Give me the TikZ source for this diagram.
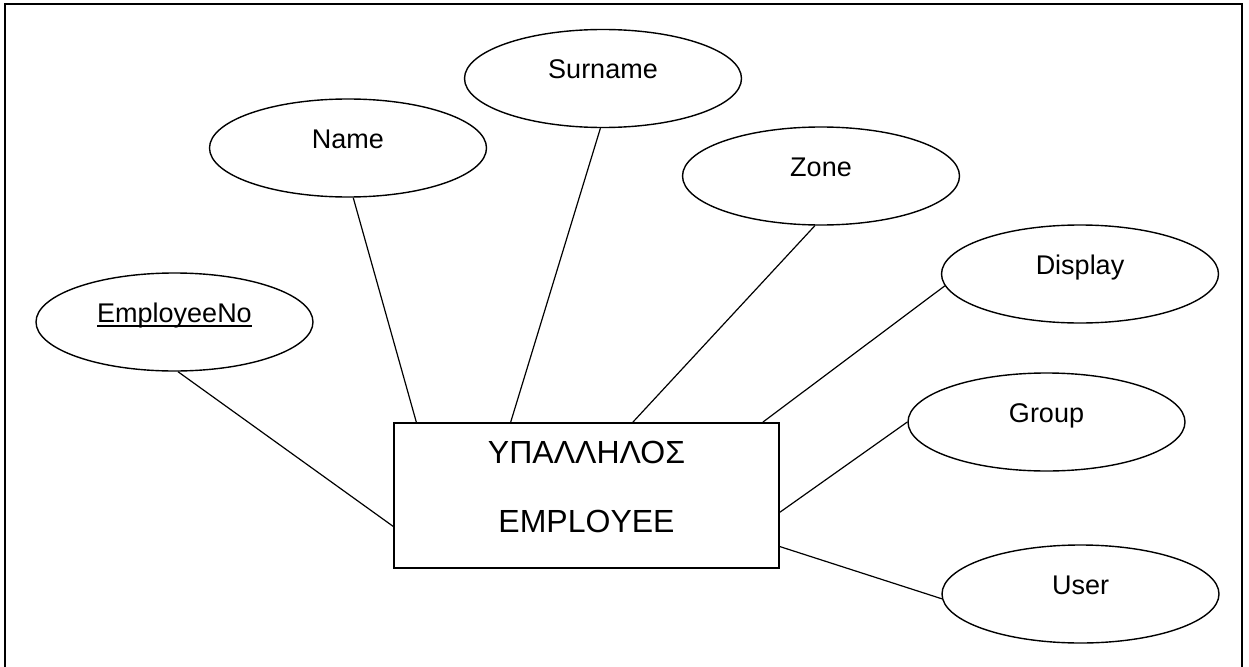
\documentclass[tikz,border=0pt]{standalone}
\usepackage{fontspec}
\setmainfont{Liberation Sans}
\usetikzlibrary{shapes.geometric,calc}
% underlined key attribute, rule crossing the descenders
\newcommand\keyattr[1]{\setbox0\hbox{#1}\rlap{\rule[-4.5pt]{\wd0}{1.5pt}}\box0}
\begin{document}
\begin{tikzpicture}[x=1pt,y=-1pt,
  attr/.style={ellipse,draw,line width=1.4pt,minimum width=277pt,minimum height=98pt,
    inner sep=0pt,text height=0pt,text depth=0pt,font=\fontsize{27}{31}\selectfont},
  entity/.style={rectangle,draw,line width=1.8pt,minimum width=385pt,minimum height=145pt,inner sep=0pt},
  etext/.style={anchor=base,inner sep=0pt,font=\fontsize{32}{38}\selectfont},
  link/.style={line width=1.2pt}]
\clip (0,0) rectangle (1249,666);
% page frame (open at the bottom)
\draw[line width=1.6pt] (5,690) -- (5,4) -- (1242,4) -- (1242,690);

% attributes
\node[attr] (empno)   at (174.5,322)  {\keyattr{EmployeeNo}};
\node[attr] (name)    at (348,148)    {Name};
\node[attr] (surname) at (603,78.5)   {Surname};
\node[attr] (zone)    at (821,176)    {Zone};
\node[attr] (display) at (1080,274)   {Display};
\node[attr] (group)   at (1046.5,422) {Group};
\node[attr] (user)    at (1080.5,594) {User};

% entity
\node[entity] (ent) at (586.5,495.5) {};
\node[etext] (entgr) at (586.5,463) {ΥΠΑΛΛΗΛΟΣ};
\node[etext] (enten) at (586.5,532) {EMPLOYEE};

% attribute links
\draw[link] (empno.-86.6) -- ($(ent.north west)!0.71!(ent.south west)$);
\draw[link] (name.-84)    -- ($(ent.north west)!0.06!(ent.north east)$);
\draw[link] (surname.-93.5) -- ($(ent.north west)!0.304!(ent.north east)$);
\draw[link] (zone.-97)    -- ($(ent.north west)!0.62!(ent.north east)$);
\draw[link] (display.-175) -- ($(ent.north west)!0.956!(ent.north east)$);
\draw[link] (group.180)   -- ($(ent.north east)!0.614!(ent.south east)$);
\draw[link] (user.-178.8) -- ($(ent.north east)!0.848!(ent.south east)$);
\end{tikzpicture}
\end{document}
